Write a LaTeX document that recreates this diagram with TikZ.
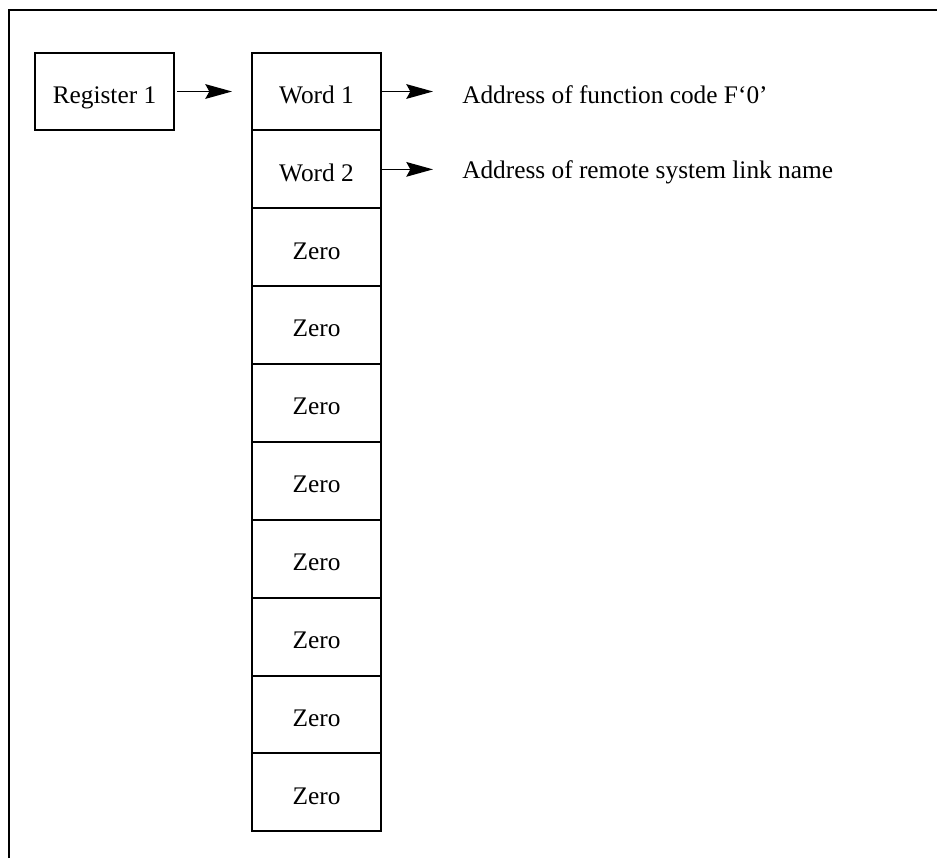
\documentclass[tikz,border=0pt]{standalone}
\usepackage{fontspec}
\setmainfont{Liberation Serif}
\usetikzlibrary{positioning,arrows.meta}

\tikzset{
    cell/.style={draw, line width=1.5pt, minimum width=96.75pt, minimum height=58.4pt,
        inner sep=0pt, outer sep=0pt, text height=17.8pt, text depth=0pt,
        font=\fontsize{19}{23}\selectfont},
    regbox/.style={cell, minimum width=104pt},
    addr/.style={inner sep=0pt, font=\fontsize{19}{23}\selectfont},
    ptr/.style={line width=1.2pt, -{Stealth[length=20pt,width=11pt,inset=3pt]}}
}

\begin{document}
\begin{tikzpicture}[x=0.75pt,y=-0.75pt]
    \useasboundingbox (0,0) rectangle (937,858);

    % Draw the outer frame
    \draw[line width=1.6pt] (9,858) -- (9,10) -- (937,10);

    % Register on the left
    \node[regbox] (reg) at (104.5,91.5) {Register 1};

    % Column of words
    \node[cell] (w1) at (316.5,91.5) {Word 1};
    \node[cell, below=0pt of w1] (w2) {Word 2};
    \node[cell, below=0pt of w2] (z3) {Zero};
    \foreach \i [count=\j from 3] in {4,...,10}
        \node[cell, below=0pt of z\j] (z\i) {Zero};

    % Texts on the right
    \node[addr, anchor=base west] (a1) at (462,103) {Address of function code F‘0’};
    \node[addr, anchor=base west] (a2) at (462,178) {Address of remote system link name};

    % Pointers
    \draw[ptr, shorten <=2.25pt, shorten >=15pt] (reg.east) -- (w1.west);
    \draw[ptr, shorten >=21.75pt] (w1.east) -- (w1.east -| a1.west);
    \draw[ptr, shorten >=21.75pt] (w2.east) -- (w2.east -| a2.west);
\end{tikzpicture}
\end{document}
